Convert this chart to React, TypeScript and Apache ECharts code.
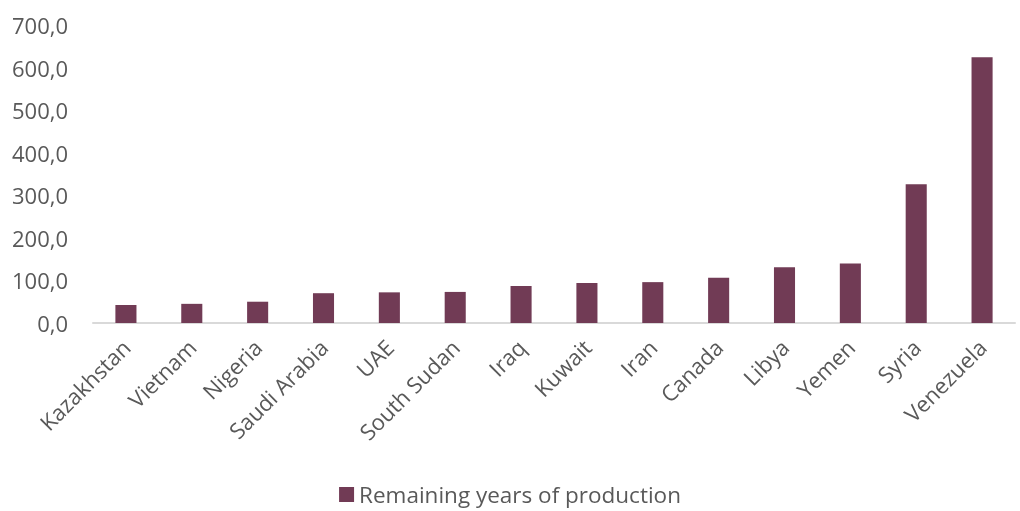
import React, { useEffect, useRef } from "react";
import * as echarts from "echarts";

const categories = [
  "Kazakhstan", "Vietnam", "Nigeria", "Saudi Arabia", "UAE", "South Sudan", "Iraq",
  "Kuwait", "Iran", "Canada", "Libya", "Yemen", "Syria", "Venezuela",
];
const remainingYears = [42, 45, 50, 70, 72, 73, 87, 94, 96, 106, 131, 140, 326, 624];
const seriesName = "Remaining years of production";

export default function App() {
  const ref = useRef<HTMLDivElement>(null);
  useEffect(() => {
    if (!ref.current) return;
    const chart = echarts.init(ref.current, null, { renderer: "svg" });
    const font = "'Open Sans', 'Noto Sans', sans-serif";
    chart.setOption({
      animation: false,
      textStyle: { fontFamily: font },
      grid: { left: 93, right: 5, top: 25, bottom: 188 },
      legend: {
        bottom: 0,
        left: "center",
        itemWidth: 15,
        itemHeight: 15,
        itemGap: 8,
        icon: "rect",
        textStyle: { color: "#595959", fontSize: 22.5, fontFamily: font },
        data: [seriesName],
      },
      xAxis: {
        type: "category",
        data: categories,
        axisLine: { lineStyle: { color: "#d9d9d9", width: 2 } },
        axisTick: { show: false },
        axisLabel: {
          rotate: 45,
          color: "#595959",
          fontSize: 22,
          margin: 20,
          interval: 0,
          fontFamily: font,
        },
      },
      yAxis: {
        type: "value",
        min: 0,
        max: 700,
        interval: 100,
        splitLine: { show: false },
        axisLine: { show: false },
        axisTick: { show: false },
        axisLabel: {
          color: "#595959",
          fontSize: 22,
          margin: 25,
          fontFamily: font,
          formatter: (v: number) => v.toFixed(1).replace(".", ","),
        },
      },
      series: [
        {
          name: seriesName,
          type: "bar",
          data: remainingYears,
          barWidth: "32%",
          itemStyle: { color: "#713B55" },
        },
      ],
    });
    return () => chart.dispose();
  }, []);
  return (
    <div
      ref={ref}
      style={{ position: "fixed", left: 0, top: 0, width: 1020, height: 511 }}
    />
  );
}
